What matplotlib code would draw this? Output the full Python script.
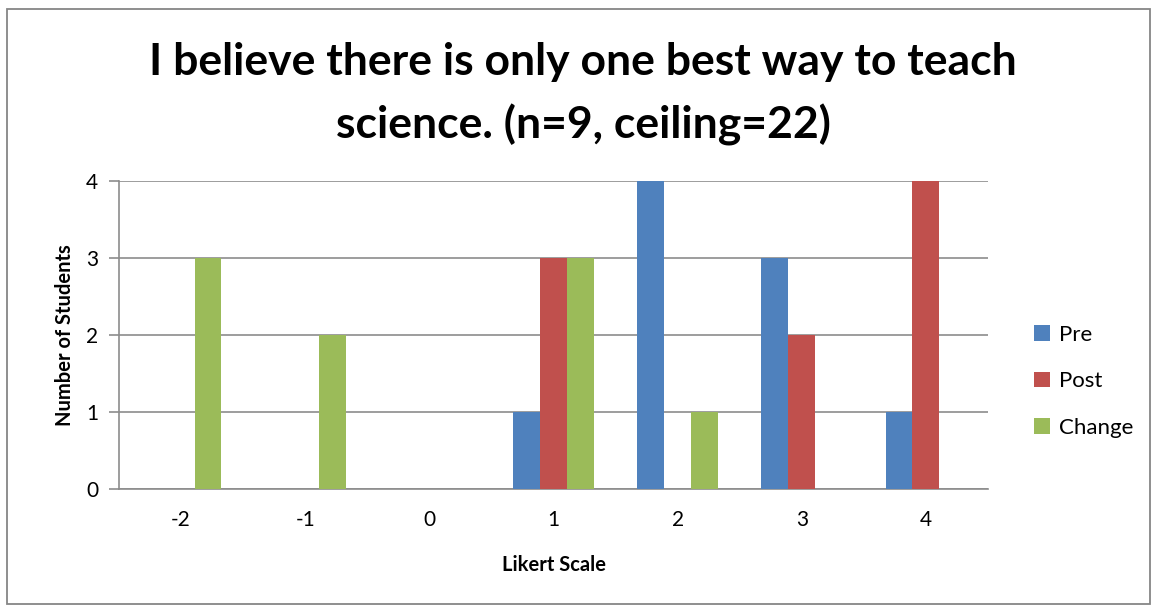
import matplotlib
matplotlib.use("Agg")
import matplotlib.pyplot as plt
import numpy as np
from matplotlib.patches import Rectangle

plt.rcParams['font.family'] = ['Lato', 'DejaVu Sans']

# Data
categories = ['-2', '-1', '0', '1', '2', '3', '4']
pre = [0, 0, 0, 1, 4, 3, 1]
post = [0, 0, 0, 3, 0, 2, 4]
change = [3, 2, 0, 3, 1, 0, 0]
series_names = ['Pre', 'Post', 'Change']
colors = ['#4F81BD', '#C0504D', '#9BBB59']

fig = plt.figure(figsize=(11.57, 6.05), dpi=100)
ax = fig.add_axes([119 / 1157, 1 - 489 / 605, 869 / 1157, 308 / 605])

x = np.arange(len(categories))
w = 0.217
for i, (vals, name, col) in enumerate(zip([pre, post, change], series_names, colors)):
    ax.bar(x + (i - 1) * w, vals, width=w, color=col, label=name, zorder=3)

ax.set_xlim(-0.5, len(categories) - 0.5)
ax.set_ylim(0, 4)
ax.set_yticks([0, 1, 2, 3, 4])
ax.set_xticks(x)
ax.set_xticklabels(categories)
ax.grid(axis='y', color='#8C8C8C', linewidth=1.2, zorder=0)
for s in ['top', 'right']:
    ax.spines[s].set_visible(False)
ax.spines['left'].set_color('#8C8C8C')
ax.spines['bottom'].set_color('#8C8C8C')
ax.spines['left'].set_linewidth(1.2)
ax.spines['bottom'].set_linewidth(1.2)
ax.tick_params(axis='y', length=7, color='#8C8C8C', width=1.2, labelsize=15, pad=8)
ax.tick_params(axis='x', length=0, labelsize=15, pad=15)

ax.set_xlabel('Likert Scale', fontsize=14.5, fontweight='bold', labelpad=18)
ax.set_ylabel('Number of Students', fontsize=14.5, fontweight='bold', labelpad=8)

fig.text(583 / 1157, 1 - 94 / 605,
         'I believe there is only one best way to teach\nscience. (n=9, ceiling=22)',
         ha='center', va='center', fontsize=32, fontweight='bold', linespacing=1.62)

ax.legend(loc='center left', bbox_to_anchor=(1.03, 0.35), frameon=False,
          fontsize=16, handlelength=0.7, handleheight=0.7, handletextpad=0.4,
          labelspacing=1.2)

fig.add_artist(Rectangle((7 / 1157, 0.002), 1143 / 1157, 1 - 9 / 605 - 0.002,
                         transform=fig.transFigure, fill=False,
                         edgecolor='#868686', linewidth=1.3))

fig.savefig('out.png', dpi=100)
